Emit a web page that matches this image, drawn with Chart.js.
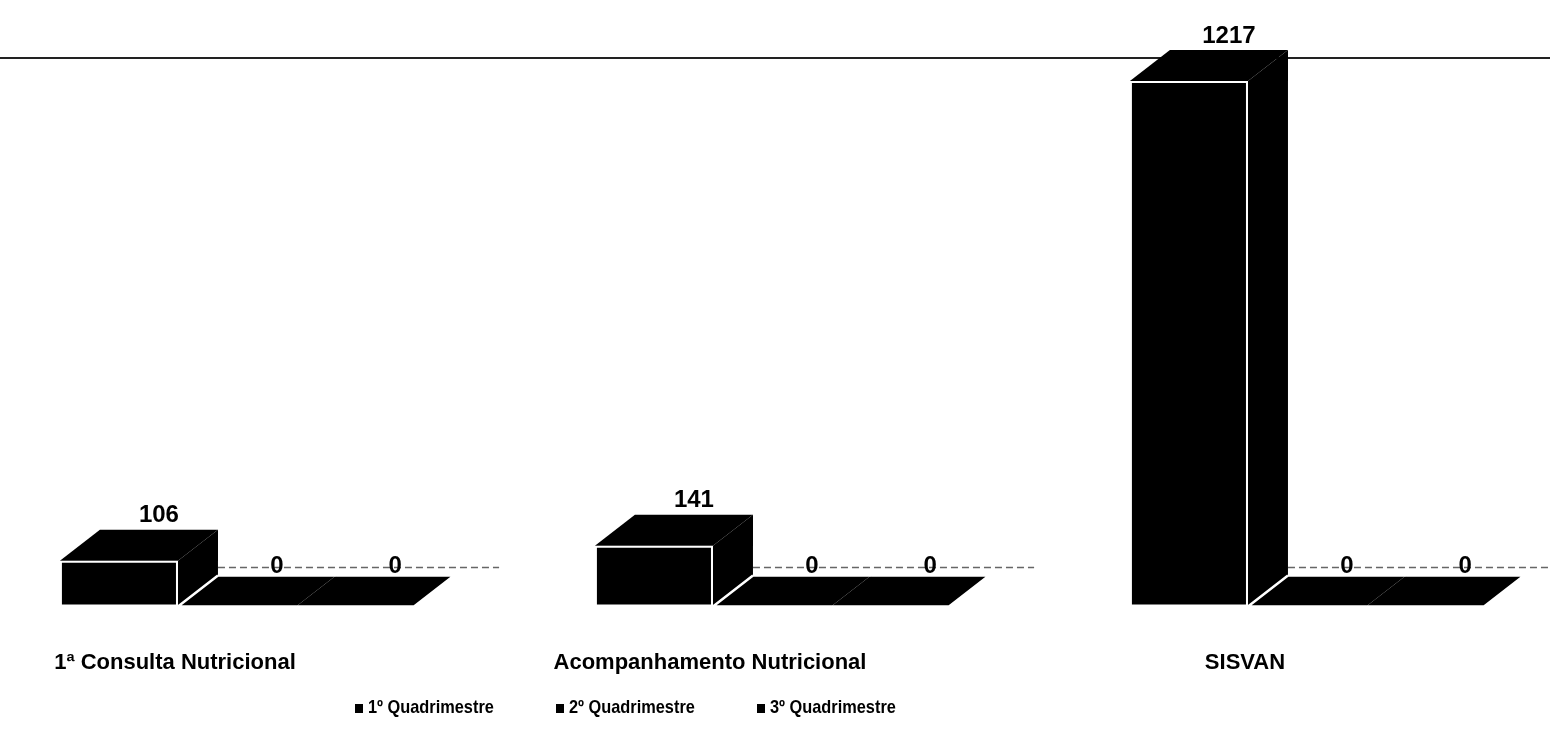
<!DOCTYPE html>
<html>
<head>
<meta charset="utf-8">
<title>Atendimentos nutricionais por quadrimestre</title>
<script src="https://cdn.jsdelivr.net/npm/chart.js@4.4.1/dist/chart.umd.min.js"></script>
<style>
  html, body { margin: 0; padding: 0; background: #fff; }
  #wrap { width: 1550px; height: 734px; }
</style>
</head>
<body>
<div id="wrap"><canvas id="grafico"></canvas></div>
<script>
const categorias = ["1ª Consulta Nutricional", "Acompanhamento Nutricional", "SISVAN"];
const series = ["1º Quadrimestre", "2º Quadrimestre", "3º Quadrimestre"];
const quad1 = [106, 141, 1217];
const quad2 = [0, 0, 0];
const quad3 = [0, 0, 0];

const fonte = "'Liberation Sans', Arial, sans-serif";
// profundidade do efeito 3D
const dx = 40;
const dy = 31;

function lados(bar) {
    const p = bar.getProps(['x', 'y', 'base', 'width'], true);
    return { l: p.x - p.width / 2, r: p.x + p.width / 2, x: p.x, y: p.y, base: p.base };
}

// faces de cima e do lado, desenhadas antes das faces da frente
const caixa3d = {
    id: 'caixa3d',
    beforeDatasetsDraw(chart) {
        const ctx = chart.ctx;
        const area = chart.chartArea;
        const ds = chart.data.datasets;
        const ultimo = ds.length - 1;

        ctx.save();
        ctx.strokeStyle = '#222';
        ctx.lineWidth = 2;
        ctx.beginPath();
        ctx.moveTo(0, area.top);
        ctx.lineTo(chart.width, area.top);
        ctx.stroke();

        // linha tracejada do fundo, atras dos zeros
        ctx.strokeStyle = '#666';
        ctx.lineWidth = 1.5;
        ctx.setLineDash([7, 4]);
        chart.getDatasetMeta(0).data.forEach((el, j) => {
            const a = lados(el);
            const z = lados(chart.getDatasetMeta(ultimo).data[j]);
            ctx.beginPath();
            ctx.moveTo(a.r + dx, a.base - dy - 8);
            ctx.lineTo(Math.min(z.r + dx + 45, chart.width), a.base - dy - 8);
            ctx.stroke();
        });
        ctx.setLineDash([]);

        ctx.fillStyle = '#000';
        for (let i = ultimo; i >= 0; i--) {
            chart.getDatasetMeta(i).data.forEach(el => {
                const b = lados(el);
                ctx.beginPath();
                ctx.moveTo(b.l, b.y);
                ctx.lineTo(b.l + dx, b.y - dy);
                ctx.lineTo(b.r + dx, b.y - dy);
                ctx.lineTo(b.r, b.y);
                ctx.closePath();
                ctx.fill();
                ctx.beginPath();
                ctx.moveTo(b.r, b.y);
                ctx.lineTo(b.r + dx, b.y - dy);
                ctx.lineTo(b.r + dx, b.base - dy);
                ctx.lineTo(b.r, b.base);
                ctx.closePath();
                ctx.fill();
            });
        }

        // contorno branco das barras com valor zero
        ctx.strokeStyle = '#fff';
        ctx.lineWidth = 2.5;
        ds.forEach((d, i) => {
            chart.getDatasetMeta(i).data.forEach((el, j) => {
                if (d.data[j] !== 0) return;
                const b = lados(el);
                const ant = i > 0 ? ds[i - 1].data[j] : 1;
                const prox = i < ultimo ? ds[i + 1].data[j] : 1;
                ctx.beginPath();
                ctx.moveTo(b.l, b.base);
                ctx.lineTo(b.r, b.base);
                ctx.moveTo(b.l + dx, b.base - dy);
                ctx.lineTo(b.r + dx, b.base - dy);
                if (ant !== 0) {
                    ctx.moveTo(b.l, b.base);
                    ctx.lineTo(b.l + dx, b.base - dy);
                }
                if (prox !== 0) {
                    ctx.moveTo(b.r, b.base);
                    ctx.lineTo(b.r + dx, b.base - dy);
                }
                ctx.stroke();
            });
        });
        ctx.restore();
    },
    afterDatasetsDraw(chart) {
        const ctx = chart.ctx;
        ctx.save();
        ctx.font = 'bold 24px ' + fonte;
        ctx.fillStyle = '#000';
        ctx.textAlign = 'center';
        ctx.textBaseline = 'middle';
        chart.data.datasets.forEach((d, i) => {
            chart.getDatasetMeta(i).data.forEach((el, j) => {
                const b = lados(el);
                const sobe = d.data[j] === 0 ? 9 : 14;
                ctx.fillText(d.data[j], b.x + dx, b.y - dy - sobe);
            });
        });
        ctx.restore();
    },
    afterDraw(chart) {
        // legenda (letra um pouco estreita, como no original)
        const ctx = chart.ctx;
        ctx.save();
        ctx.font = 'bold 19px ' + fonte;
        ctx.textBaseline = 'middle';
        ctx.fillStyle = '#000';
        chart.data.datasets.forEach((d, i) => {
            const x = 355 + i * 201;
            ctx.fillRect(x, 704, 8, 9);
            ctx.save();
            ctx.translate(x + 13, 708);
            ctx.scale(0.86, 1);
            ctx.fillText(d.label, 0, 0);
            ctx.restore();
        });
        ctx.restore();
    }
};

function serie(label, data) {
    return {
        label: label,
        data: data,
        backgroundColor: '#000',
        borderColor: '#fff',
        borderWidth: 2,
        borderSkipped: false,
        barPercentage: 1,
        categoryPercentage: 0.662,
        clip: false
    };
}

new Chart(document.getElementById('grafico'), {
    type: 'bar',
    data: {
        labels: categorias,
        datasets: [
            serie(series[0], quad1),
            serie(series[1], quad2),
            serie(series[2], quad3)
        ]
    },
    options: {
        responsive: true,
        maintainAspectRatio: false,
        animation: false,
        layout: {
            padding: { left: 237, right: 243, top: 58, bottom: 15 }
        },
        plugins: {
            legend: { display: false },
            tooltip: { enabled: false }
        },
        scales: {
            x: {
                offset: false,
                grid: { display: false, drawTicks: false },
                border: { display: false },
                ticks: {
                    color: '#000',
                    font: { family: fonte, size: 22, weight: 'bold' },
                    padding: 43,
                    labelOffset: -62,
                    maxRotation: 0,
                    autoSkip: false
                }
            },
            y: {
                display: false,
                min: 0,
                max: 1270
            }
        }
    },
    plugins: [caixa3d]
});
</script>
</body>
</html>
